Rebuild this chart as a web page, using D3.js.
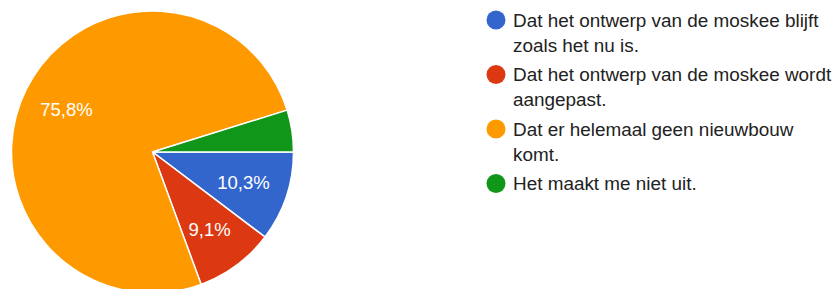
<!DOCTYPE html>
<html>
<head>
<meta charset="utf-8">
<script src="https://cdn.jsdelivr.net/npm/d3@7"></script>
<style>
  body { margin: 0; background: #fff; }
  svg { display: block; font-family: Arial, "Liberation Sans", sans-serif; }
</style>
</head>
<body>
<div id="chart"></div>
<script>
const categories = [
    "Dat het ontwerp van de moskee blijft zoals het nu is.",
    "Dat het ontwerp van de moskee wordt aangepast.",
    "Dat er helemaal geen nieuwbouw komt.",
    "Het maakt me niet uit."
];
const values = [10.3, 9.1, 75.8, 4.8];
const labels = ["10,3%", "9,1%", "75,8%", ""];
const colors = ["#3366cc", "#dc3912", "#ff9900", "#109618"];

const width = 835;
const height = 289;
const cx = 152.5, cy = 152, radius = 141;

const svg = d3.select("#chart")
    .append("svg")
    .attr("width", width)
    .attr("height", height);

const items = categories.map((c, i) => ({ name: c, value: values[i], label: labels[i], color: colors[i] }));

// pie starts at 3 o'clock and goes clockwise
const pie = d3.pie()
    .sort(null)
    .value(d => d.value)
    .startAngle(Math.PI / 2)
    .endAngle(Math.PI / 2 + 2 * Math.PI);

const arc = d3.arc().innerRadius(0).outerRadius(radius);
const labelArc = d3.arc().innerRadius(radius * 0.68).outerRadius(radius * 0.68);

const g = svg.append("g").attr("transform", `translate(${cx},${cy})`);

const arcs = pie(items);

g.selectAll(".slice")
    .data(arcs)
    .enter()
    .append("path")
    .attr("class", "slice")
    .attr("d", arc)
    .attr("fill", d => d.data.color)
    .attr("stroke", "#fff")
    .attr("stroke-width", 1.5);

g.selectAll(".slice-label")
    .data(arcs)
    .enter()
    .append("text")
    .attr("class", "slice-label")
    .attr("transform", d => `translate(${labelArc.centroid(d)})`)
    .attr("text-anchor", "middle")
    .attr("dy", "0.36em")
    .attr("fill", "#fff")
    .style("font-size", "18.5px")
    .text(d => d.data.label);

// legend
const legendX = 496, legendY = 20, itemGap = 54.5, lineH = 25, maxW = 320;

const legend = svg.append("g");

items.forEach((d, i) => {
    const y = legendY + i * itemGap;
    legend.append("circle")
        .attr("cx", legendX)
        .attr("cy", y)
        .attr("r", 9.5)
        .attr("fill", d.color);

    const text = legend.append("text")
        .attr("x", legendX + 17)
        .attr("y", y + 6.7)
        .attr("fill", "#222")
        .style("font-size", "18.9px");

    // wrap words onto lines
    const words = d.name.split(" ");
    let line = [];
    let lineNo = 0;
    let tspan = text.append("tspan").attr("x", legendX + 17).attr("dy", 0);
    words.forEach(w => {
        line.push(w);
        tspan.text(line.join(" "));
        if (tspan.node().getComputedTextLength() > maxW && line.length > 1) {
            line.pop();
            tspan.text(line.join(" "));
            line = [w];
            lineNo++;
            tspan = text.append("tspan").attr("x", legendX + 17).attr("dy", lineH).text(w);
        }
    });
});
</script>
</body>
</html>
